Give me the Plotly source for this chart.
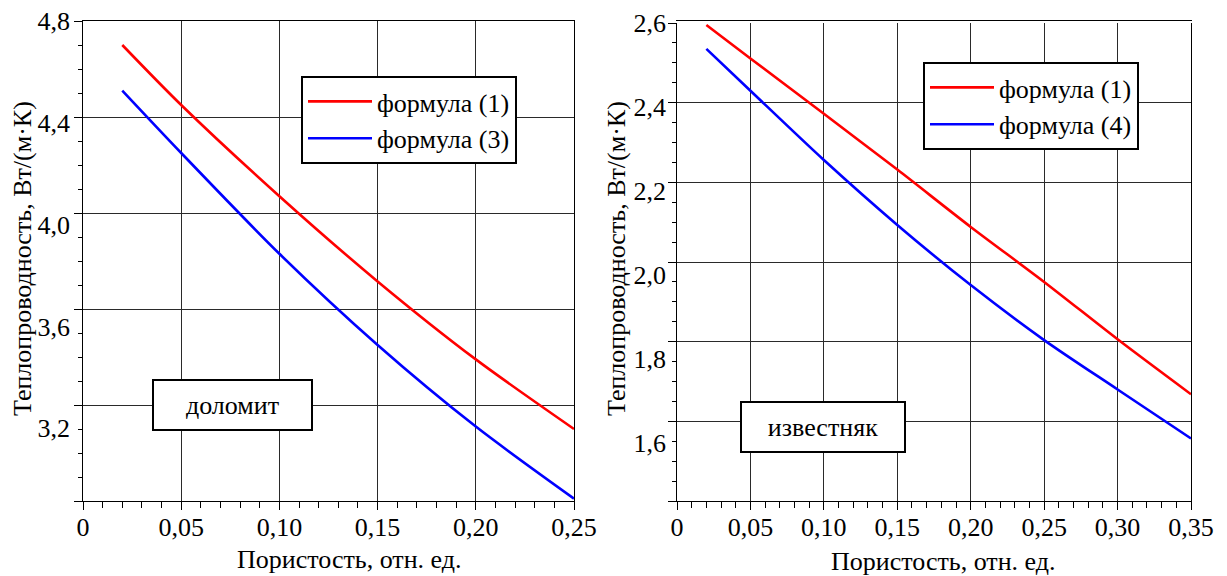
import plotly.graph_objects as go

# ---------------- data ----------------
# dolomite (left panel)
porosity_dol = [0.02, 0.05, 0.10, 0.15, 0.20, 0.25]
dol_formula1 = [4.70, 4.45, 4.07, 3.715, 3.39, 3.10]
dol_formula3 = [4.51, 4.25, 3.83, 3.45, 3.11, 2.81]

# limestone (right panel)
porosity_lim = [0.02, 0.05, 0.10, 0.15, 0.20, 0.25, 0.30, 0.35]
lim_formula1 = [2.595, 2.511, 2.372, 2.232, 2.088, 1.950, 1.806, 1.668]
lim_formula4 = [2.535, 2.430, 2.256, 2.093, 1.942, 1.804, 1.680, 1.557]

# axis ticks / labels
x_ticks_dol = [0, 0.05, 0.10, 0.15, 0.20, 0.25]
x_text_dol = ["0", "0,05", "0,10", "0,15", "0,20", "0,25"]
x_ticks_lim = [0, 0.05, 0.10, 0.15, 0.20, 0.25, 0.30, 0.35]
x_text_lim = ["0", "0,05", "0,10", "0,15", "0,20", "0,25", "0,30", "0,35"]

y_grid_dol = [2.8, 3.2, 3.6, 4.0, 4.4, 4.8]
y_label_dol = [3.2, 3.6, 4.0, 4.4, 4.8]
y_text_dol = ["3,2", "3,6", "4,0", "4,4", "4,8"]

y_grid_lim = [1.4, 1.6, 1.8, 2.0, 2.2, 2.4, 2.6]
y_label_lim = [1.6, 1.8, 2.0, 2.2, 2.4, 2.6]
y_text_lim = ["1,6", "1,8", "2,0", "2,2", "2,4", "2,6"]

x_title = "Пористость, отн. ед."
y_title = "Теплопроводность, Вт/(м·К)"

FONT = "Liberation Serif"
FS = 26
GRID = "#2a2a2a"

fig = go.Figure()
fig.add_trace(go.Scatter(x=porosity_dol, y=dol_formula1, name="формула (1)", mode="lines",
                         line=dict(color="#ff0000", width=2.6, shape="spline", smoothing=0.8),
                         xaxis="x", yaxis="y", legend="legend"))
fig.add_trace(go.Scatter(x=porosity_dol, y=dol_formula3, name="формула (3)", mode="lines",
                         line=dict(color="#0000ff", width=2.6, shape="spline", smoothing=0.8),
                         xaxis="x", yaxis="y", legend="legend"))
fig.add_trace(go.Scatter(x=porosity_lim, y=lim_formula1, name="формула (1)", mode="lines",
                         line=dict(color="#ff0000", width=2.6, shape="spline", smoothing=0.8),
                         xaxis="x2", yaxis="y2", legend="legend2"))
fig.add_trace(go.Scatter(x=porosity_lim, y=lim_formula4, name="формула (4)", mode="lines",
                         line=dict(color="#0000ff", width=2.6, shape="spline", smoothing=0.8),
                         xaxis="x2", yaxis="y2", legend="legend2"))
# empty traces that only register the tick-label axes (no marks drawn)
fig.add_trace(go.Scatter(x=[], y=[], xaxis="x", yaxis="y3", showlegend=False, hoverinfo="skip"))
fig.add_trace(go.Scatter(x=[], y=[], xaxis="x2", yaxis="y4", showlegend=False, hoverinfo="skip"))

W, H = 1227, 576


def xdom(a, b):
    return [a / W, b / W]


def ydom(top, bottom):
    return [1 - bottom / H, 1 - top / H]


def xaxis_cfg(dom, rng, tv, tt):
    return dict(domain=dom, range=rng, tickmode="array", tickvals=tv, ticktext=tt,
                showgrid=True, gridcolor=GRID, gridwidth=1, zeroline=False,
                showline=True, linecolor="black", linewidth=1, mirror=True,
                ticks="outside", ticklen=8, tickcolor="black", tickwidth=1,
                minor=dict(dtick=0.01, tick0=0, ticks="outside", ticklen=6,
                           tickcolor="black", tickwidth=1, showgrid=False),
                tickfont=dict(family=FONT, size=FS, color="black"),
                ticklabelstandoff=-5, automargin=False, fixedrange=True)


def ygrid_cfg(dom, rng, tv, anchor, mdt):
    return dict(domain=dom, range=rng, tickmode="array", tickvals=tv, anchor=anchor,
                showgrid=True, gridcolor=GRID, gridwidth=1, zeroline=False,
                showline=True, linecolor="black", linewidth=1, mirror=True,
                ticks="outside", ticklen=8, tickcolor="black", tickwidth=1,
                showticklabels=False,
                minor=dict(dtick=mdt, tick0=tv[0], ticks="outside", ticklen=4,
                           tickcolor="black", tickwidth=1, showgrid=False),
                automargin=False, fixedrange=True)


def ylabel_cfg(over, anchor, rng, tv, tt, standoff):
    return dict(overlaying=over, anchor=anchor, side="left", range=rng,
                tickmode="array", tickvals=tv, ticktext=tt,
                showgrid=False, zeroline=False, showline=False, ticks="",
                tickfont=dict(family=FONT, size=FS, color="black"),
                ticklabelstandoff=standoff, automargin=False, fixedrange=True)


fig.update_layout(
    width=W, height=H, autosize=False,
    margin=dict(l=0, r=0, t=0, b=0, pad=0, autoexpand=False),
    paper_bgcolor="white", plot_bgcolor="white",
    font=dict(family=FONT, size=FS, color="black"),
    xaxis=xaxis_cfg(xdom(83, 574), [0, 0.25], x_ticks_dol, x_text_dol),
    xaxis2=xaxis_cfg(xdom(677, 1191), [0, 0.35], x_ticks_lim, x_text_lim),
    yaxis=ygrid_cfg(ydom(21, 501), [2.8, 4.8], y_grid_dol, "x", 0.1),
    yaxis2=ygrid_cfg(ydom(23, 501), [1.4, 2.6], y_grid_lim, "x2", 0.05),
    # tick labels in the source sit slightly off the grid lines
    yaxis3=ylabel_cfg("y", "x", [2.914, 4.8], y_label_dol, y_text_dol, 12),
    yaxis4=ylabel_cfg("y2", "x2", [1.462, 2.6], y_label_lim, y_text_lim, 10),
    showlegend=True,
    legend=dict(x=301 / W, y=1 - 76 / H, xanchor="left", yanchor="top",
                bgcolor="white", bordercolor="black", borderwidth=2,
                font=dict(family=FONT, size=FS, color="black"), itemwidth=64),
    legend2=dict(x=923 / W, y=1 - 62 / H, xanchor="left", yanchor="top",
                 bgcolor="white", bordercolor="black", borderwidth=2,
                 font=dict(family=FONT, size=FS, color="black"), itemwidth=64),
)

ann_style = dict(showarrow=False, bgcolor="white", bordercolor="black", borderwidth=2,
                 borderpad=2, font=dict(family=FONT, size=FS, color="black"), height=44)
fig.add_annotation(text="доломит", x=0.076, y=3.2, xref="x", yref="y", width=153, **ann_style)
fig.add_annotation(text="известняк", x=0.0995, y=1.585, xref="x2", yref="y2", width=158, **ann_style)

title_style = dict(showarrow=False, xref="paper", yref="paper", xanchor="center",
                   yanchor="middle", font=dict(family=FONT, size=FS, color="black"))
fig.add_annotation(text=x_title, x=349 / W, y=1 - 559 / H, **title_style)
fig.add_annotation(text=x_title, x=943 / W, y=1 - 561 / H, **title_style)
fig.add_annotation(text=y_title, x=22 / W, y=1 - 259 / H, textangle=-90, **title_style)
fig.add_annotation(text=y_title, x=616 / W, y=1 - 259 / H, textangle=-90, **title_style)

fig.write_html("out.html", config={"displayModeBar": False},
               post_script="document.body.style.margin='0px';")
